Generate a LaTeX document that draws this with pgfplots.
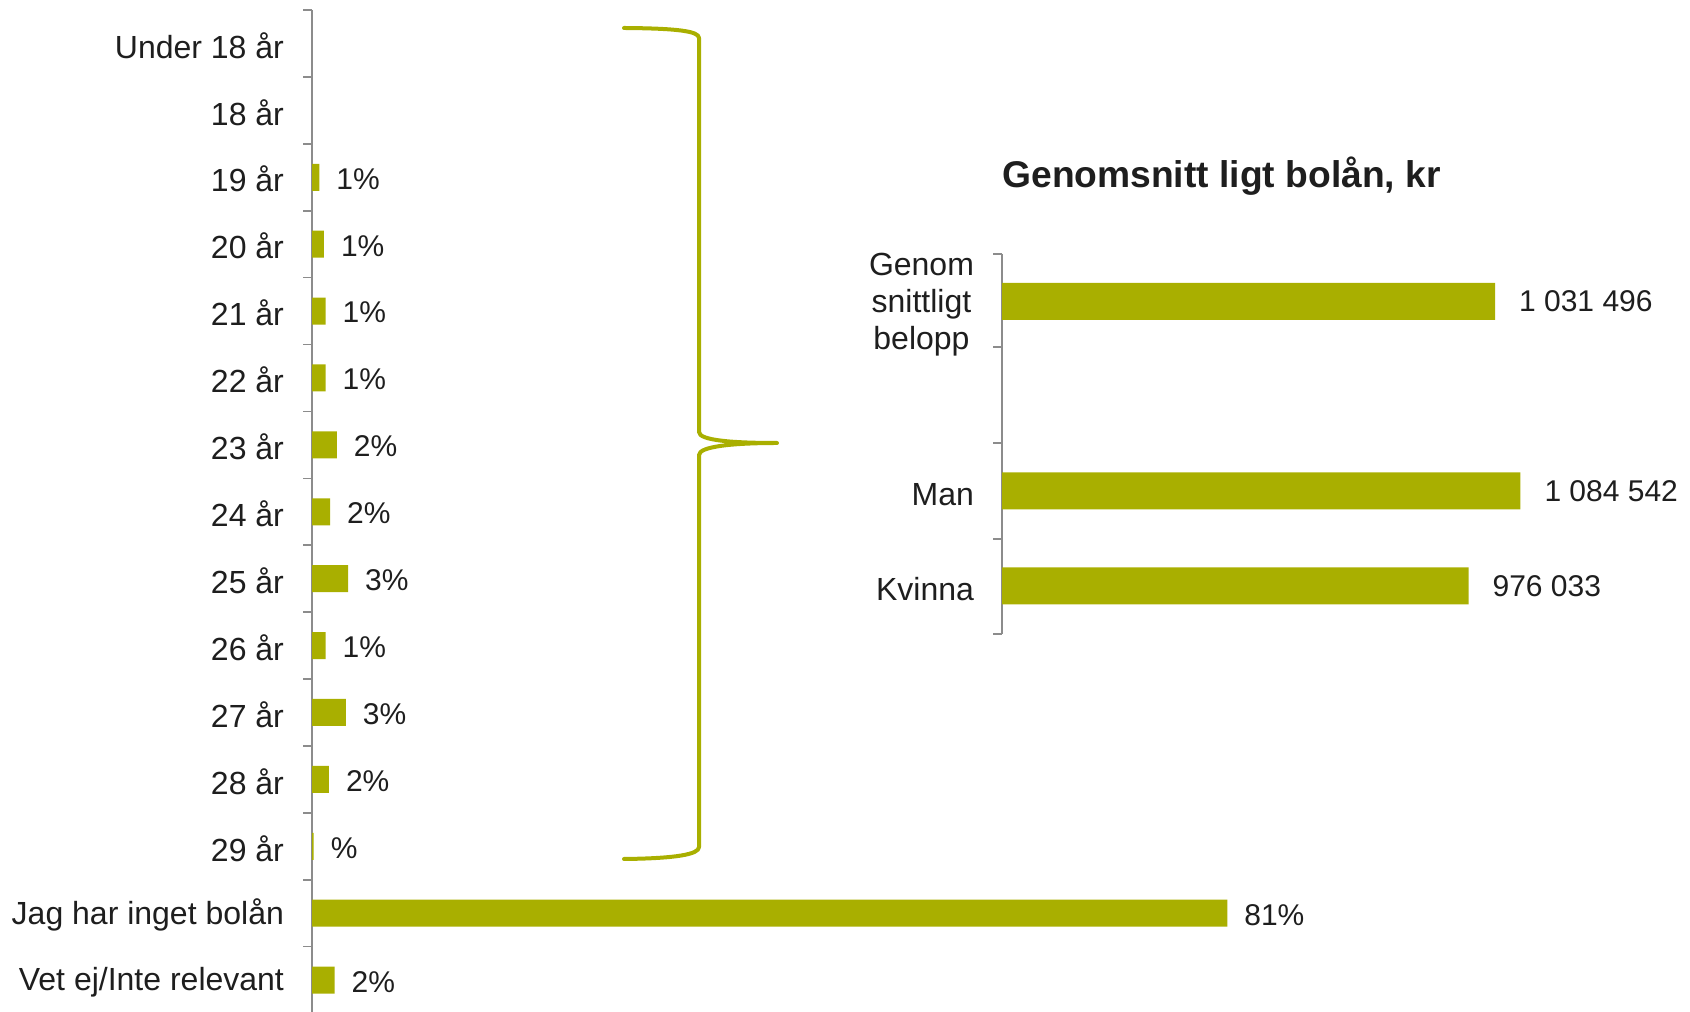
\documentclass[border=0pt]{standalone}
\usepackage{pgfplots}
\pgfplotsset{compat=1.18}
\usepackage{fontspec}
\setmainfont{Liberation Sans}

\definecolor{olive}{HTML}{A9AF00}
\definecolor{axgray}{HTML}{8C8C8C}
\definecolor{txt}{HTML}{1E1E1E}

\pgfplotsset{
  barstyle/.style={
    xbar, scale only axis, clip=false,
    axis x line=none, axis y line*=left,
    axis line style={draw=axgray, line width=0.8pt},
    y dir=reverse, xmin=0,
    major tick length=0pt, minor tick length=4.5pt,
    tick align=outside, tick style={draw=axgray, line width=0.8pt},
    ytick pos=left,
    tick label style={font=\fontsize{16}{18.5}\selectfont, text=txt},
    yticklabel style={xshift=-10.5pt, yshift=-1pt},
    point meta=explicit symbolic,
    nodes near coords={\pgfplotspointmeta},
    every node near coord/.append style={font=\fontsize{15}{18}\selectfont, text=txt, anchor=west},
  }
}

\begin{document}
\begin{tikzpicture}
\useasboundingbox (0,0) rectangle (845pt,505.5pt);

% left: alder
\begin{axis}[barstyle,
  at={(156pt,500.5pt)}, anchor=north west,
  width=508.5pt, height=501.75pt,
  xmax=90, ymin=-0.5, ymax=14.5,
  bar width=13.5pt,
  ytick={0,...,14},
  yticklabels={Under 18 år,18 år,19 år,20 år,21 år,22 år,23 år,24 år,25 år,26 år,27 år,28 år,29 år,Jag har inget bolån,Vet ej/Inte relevant},
  minor ytick={-0.5,0.5,...,14.5},
  every node near coord/.append style={xshift=5pt, yshift=-0.8pt},
]
\addplot[fill=olive, draw=none] coordinates {
  (0.65,2) [1\%]
  (1.06,3) [1\%]
  (1.2,4) [1\%]
  (1.2,5) [1\%]
  (2.2,6) [2\%]
  (1.6,7) [2\%]
  (3.2,8) [3\%]
  (1.2,9) [1\%]
  (3.0,10) [3\%]
  (1.5,11) [2\%]
  (0.15,12) [\%]
  (81,13) [81\%]
  (2.0,14) [2\%]
};
\end{axis}

% brace
\draw[olive, line width=2pt, line cap=round, line join=round]
  (312pt,491.5pt) .. controls (338pt,491.3pt) and (349.5pt,490pt) .. (349.5pt,486.5pt)
  -- (349.5pt,289.5pt) .. controls (349.5pt,285.3pt) and (366pt,284pt) .. (388.5pt,284pt)
  .. controls (366pt,284pt) and (349.5pt,282.2pt) .. (349.5pt,278pt)
  -- (349.5pt,82pt) .. controls (349.5pt,78.3pt) and (338pt,76.3pt) .. (312pt,76pt);

% right: genomsnittligt bolan
\node[anchor=base west, font=\bfseries\fontsize{18.6}{21}\selectfont, text=txt, inner sep=0pt]
  at (501pt,411.5pt) {Genomsnitt ligt bolån, kr};

\begin{axis}[barstyle,
  at={(501pt,378.5pt)}, anchor=north west,
  width=286.8pt, height=190pt,
  xmax=1200000, ymin=254, ymax=634,
  bar width=18.5pt,
  ytick={301.5,491,586},
  yticklabels={Genom\\snittligt\\belopp,Man,Kvinna},
  yticklabel style={align=center, yshift=-0.6pt},
  minor ytick={254,347,443,539,634},
  every node near coord/.append style={xshift=8.5pt},
]
\addplot[fill=olive, draw=none] coordinates {
  (1031496,301.5) [1 031 496]
  (1084542,491) [1 084 542]
  (976033,586) [976 033]
};
\end{axis}
\end{tikzpicture}
\end{document}
